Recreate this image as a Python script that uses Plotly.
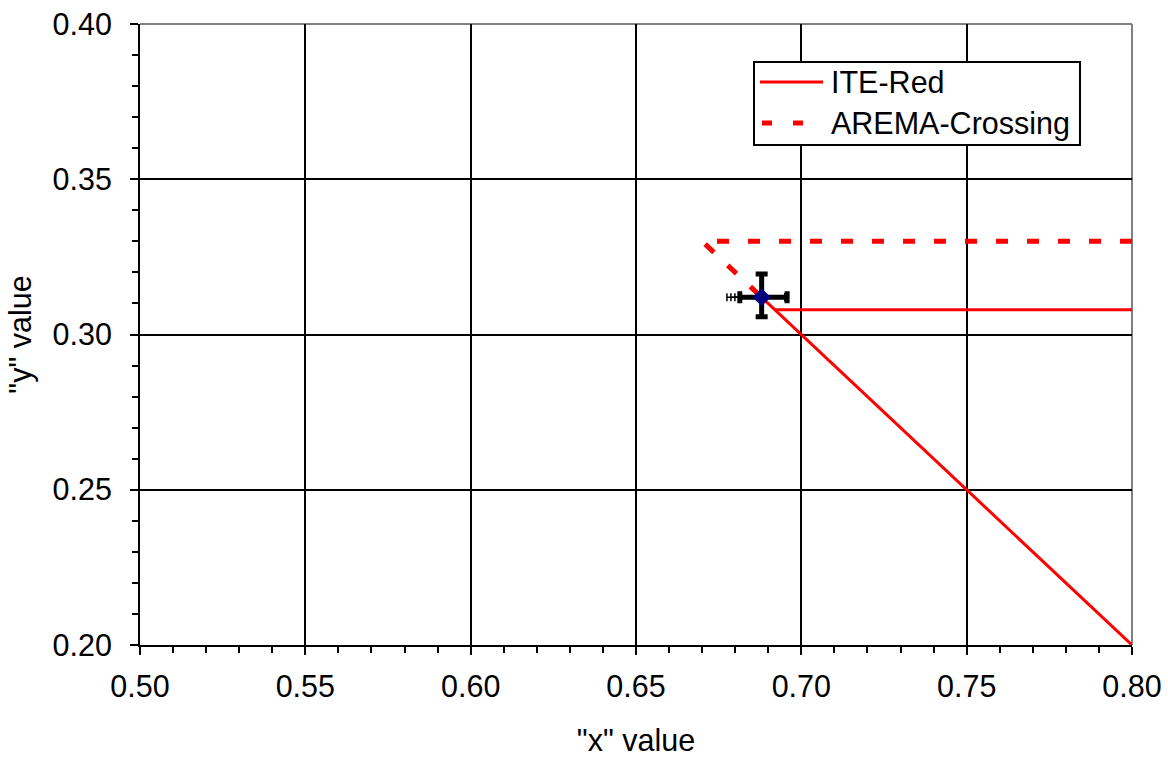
import plotly.graph_objects as go

# Chromaticity boundary lines
ite_red_x = [0.80, 0.692, None, 0.688, 0.80]
ite_red_y = [0.308, 0.308, None, 0.312, 0.20]

arema_x = [0.80, 0.67, 0.688]
arema_y = [0.33, 0.33, 0.312]

# Measured chromaticity point with its uncertainty
meas_x = [0.688]
meas_y = [0.312]
meas_xerr_minus = [0.0066]
meas_xerr_plus = [0.0077]
meas_yerr_minus = [0.0063]
meas_yerr_plus = [0.0075]

# Additional repeat readings (wider x spread on the low side)
rep_x = [0.688, 0.688, 0.688]
rep_y = [0.312, 0.312, 0.312]
rep_xerr_minus = [0.0081, 0.0093, 0.0105]
rep_xerr_plus = [0.0070, 0.0070, 0.0070]

x_ticks = [0.50, 0.55, 0.60, 0.65, 0.70, 0.75, 0.80]
y_ticks = [0.20, 0.25, 0.30, 0.35, 0.40]

legend_names = ["ITE-Red", "AREMA-Crossing"]

FONT = "Liberation Sans, Arial, sans-serif"
FS = 30.5
RED = "#ff0000"

fig = go.Figure()

fig.add_trace(go.Scatter(
    x=ite_red_x, y=ite_red_y, mode="lines", name=legend_names[0],
    line=dict(color=RED, width=3), showlegend=False, connectgaps=False,
))
fig.add_trace(go.Scatter(
    x=arema_x, y=arema_y, mode="lines", name=legend_names[1],
    line=dict(color=RED, width=5, dash="12px,19px"), showlegend=False,
))
fig.add_trace(go.Scatter(
    x=rep_x, y=rep_y, mode="markers", showlegend=False,
    marker=dict(size=1, color="rgba(0,0,0,0)"),
    error_x=dict(type="data", array=rep_xerr_plus, arrayminus=rep_xerr_minus,
                 color="black", thickness=1.5, width=4),
))
fig.add_trace(go.Scatter(
    x=meas_x, y=meas_y, mode="markers", showlegend=False,
    marker=dict(symbol="diamond", size=14, color="#000080"),
    error_x=dict(type="data", array=meas_xerr_plus, arrayminus=meas_xerr_minus,
                 color="black", thickness=5, width=6),
    error_y=dict(type="data", array=meas_yerr_plus, arrayminus=meas_yerr_minus,
                 color="black", thickness=5, width=6),
))

# Plot frame: gray top and right edges
fig.add_shape(type="line", xref="paper", yref="paper", x0=0, x1=1, y0=1, y1=1,
              line=dict(color="#808080", width=2), layer="between")
fig.add_shape(type="line", xref="paper", yref="paper", x0=1, x1=1, y0=0, y1=1,
              line=dict(color="#808080", width=2), layer="between")

# Legend box
def px_x(p):
    return (p - 140) / 992

def px_y(p):
    return (645 - p) / 621

fig.add_shape(type="rect", xref="paper", yref="paper",
              x0=px_x(754), x1=px_x(1080), y0=px_y(145), y1=px_y(62),
              line=dict(color="black", width=2), fillcolor="white", layer="above")
fig.add_shape(type="line", xref="paper", yref="paper",
              x0=px_x(760), x1=px_x(823), y0=px_y(82), y1=px_y(82),
              line=dict(color=RED, width=3), layer="above")
fig.add_shape(type="line", xref="paper", yref="paper",
              x0=px_x(762), x1=px_x(772), y0=px_y(123), y1=px_y(123),
              line=dict(color=RED, width=5), layer="above")
fig.add_shape(type="line", xref="paper", yref="paper",
              x0=px_x(793), x1=px_x(803), y0=px_y(123), y1=px_y(123),
              line=dict(color=RED, width=5), layer="above")
for name, ypx in zip(legend_names, [82, 123]):
    fig.add_annotation(xref="paper", yref="paper", x=px_x(829), y=px_y(ypx),
                       text=name, showarrow=False, xanchor="left", yanchor="middle",
                       font=dict(family=FONT, size=FS, color="black"))

axis_common = dict(
    showline=True, linecolor="black", linewidth=2,
    showgrid=True, gridcolor="black", automargin=False,
    zeroline=False, ticks="outside", ticklen=8, tickwidth=2, tickcolor="black",
    tickformat=".2f", tickfont=dict(family=FONT, size=FS, color="black"),
    minor=dict(ticks="outside", ticklen=6, tickwidth=2, tickcolor="black",
               dtick=0.01, showgrid=False),
)

fig.update_xaxes(range=[0.5, 0.8], tickvals=x_ticks, gridwidth=2,
                 title=dict(text='"x" value', font=dict(family=FONT, size=FS, color="black"),
                            standoff=36),
                 ticklabelstandoff=5, **axis_common)
fig.update_yaxes(range=[0.2, 0.4], tickvals=y_ticks, gridwidth=1.5,
                 title=dict(text='"y" value', font=dict(family=FONT, size=FS, color="black"),
                            standoff=12),
                 ticklabelstandoff=12, **axis_common)

fig.update_layout(
    width=1168, height=757,
    margin=dict(l=140, r=36, t=24, b=112),
    plot_bgcolor="white", paper_bgcolor="white",
    font=dict(family=FONT, size=FS, color="black"),
)

fig.write_html("out.html")
